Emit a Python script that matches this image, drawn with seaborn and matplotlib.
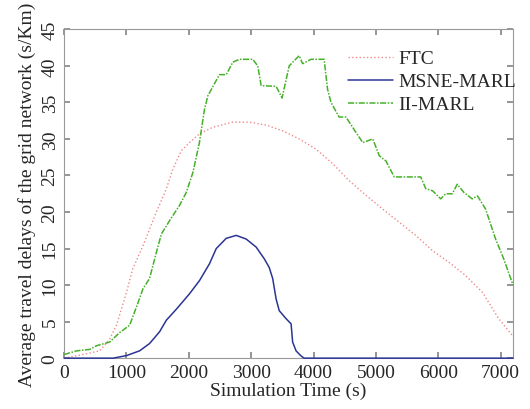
import pandas as pd
import seaborn as sns
import matplotlib.pyplot as plt

# values
ftc_t = [0, 300, 570, 730, 840, 1000, 1100, 1265, 1480, 1640, 1745, 1880, 2010, 2170,
         2385, 2705, 2970, 3240, 3510, 3770, 4040, 4310, 4570, 4840, 5110, 5375, 5640,
         5910, 6175, 6440, 6710, 6970, 7200]
ftc_d = [0.0, 0.5, 1.0, 2.6, 4.5, 9.0, 12.2, 15.4, 20.0, 23.2, 25.9, 28.4, 29.5, 30.7,
         31.6, 32.3, 32.3, 31.9, 31.1, 30.0, 28.6, 26.6, 24.3, 22.3, 20.4, 18.6, 16.8,
         14.7, 13.1, 11.3, 9.0, 5.4, 3.0]

msne_t = [0, 700, 785, 1000, 1210, 1370, 1530, 1640, 1800, 2010, 2170, 2330, 2440, 2600,
          2760, 2920, 3080, 3210, 3290, 3345, 3400, 3450, 3560, 3640, 3665, 3720, 3800,
          3850, 7200]
msne_d = [0.0, 0.0, 0.0, 0.35, 1.0, 2.0, 3.6, 5.2, 6.7, 8.8, 10.6, 12.9, 15.0, 16.4,
          16.8, 16.3, 15.2, 13.6, 12.4, 10.9, 8.1, 6.5, 5.4, 4.7, 2.2, 1.0, 0.3,
          0.0, 0.0]

ii_t = [0, 200, 410, 520, 730, 890, 1050, 1160, 1265, 1370, 1480, 1560, 1690, 1850, 1960,
        2065, 2170, 2250, 2305, 2490, 2600, 2705, 2810, 3025, 3105, 3160, 3400, 3495,
        3610, 3770, 3825, 3960, 4170, 4225, 4280, 4410, 4520, 4680, 4790, 4950, 5055,
        5160, 5295, 5720, 5800, 5910, 6040, 6120, 6225, 6305, 6410, 6545, 6630, 6760,
        6920, 7050, 7200]
ii_d = [0.5, 1.0, 1.2, 1.7, 2.2, 3.5, 4.5, 7.0, 9.5, 10.9, 14.5, 17.0, 18.8, 20.9, 22.7,
        25.4, 29.5, 34.0, 35.9, 38.8, 38.8, 40.5, 40.9, 40.9, 40.0, 37.3, 37.2, 35.6,
        40.0, 41.4, 40.3, 40.9, 40.9, 36.8, 35.0, 33.0, 33.0, 30.9, 29.5, 30.0, 27.7,
        27.0, 24.8, 24.8, 23.2, 22.9, 21.8, 22.5, 22.5, 23.8, 22.7, 21.8, 22.2, 20.4,
        16.3, 13.6, 10.0]

sns.set_theme(style="ticks")
plt.rcParams['font.family'] = ['Liberation Serif', 'DejaVu Serif']

fig = plt.figure(figsize=(5.3, 4.1), dpi=100)
ax = fig.add_axes([0.121, 0.124, 0.847, 0.802])

sns.lineplot(x=ftc_t, y=ftc_d, ax=ax, color='#f08a8a', linestyle=':', linewidth=1.0,
             label='FTC', clip_on=False, zorder=3)
sns.lineplot(x=msne_t, y=msne_d, ax=ax, color='#2a3593', linestyle='-', linewidth=1.1,
             label='MSNE-MARL', clip_on=False, zorder=4)
sns.lineplot(x=ii_t, y=ii_d, ax=ax, color='#46b02a', linestyle=(0, (4, 1, 1, 1)),
             linewidth=1.1, label='II-MARL', clip_on=False, zorder=3)

ax.set_xlim(0, 7200)
ax.set_ylim(0, 45)
ax.set_xticks(range(0, 7001, 1000))
ax.set_yticks(range(0, 46, 5))
ax.set_xlabel('Simulation Time (s)', fontsize=14, labelpad=1)
ax.set_ylabel('Average travel delays of the grid network (s/Km)', fontsize=14, labelpad=4)
ax.tick_params(direction='in', top=True, right=True, length=4, labelsize=14,
               color='#888888', pad=4)
for lab in ax.get_yticklabels():
    lab.set_rotation(90)
    lab.set_va('center')
for s in ax.spines.values():
    s.set_color('#999999')
    s.set_linewidth(0.8)

ax.legend(loc='upper left', bbox_to_anchor=(0.632, 0.938), frameon=False, fontsize=14,
          handlelength=2.3, handletextpad=0.3, labelspacing=0.28, borderpad=0,
          borderaxespad=0)

fig.savefig('out.png', dpi=100)
